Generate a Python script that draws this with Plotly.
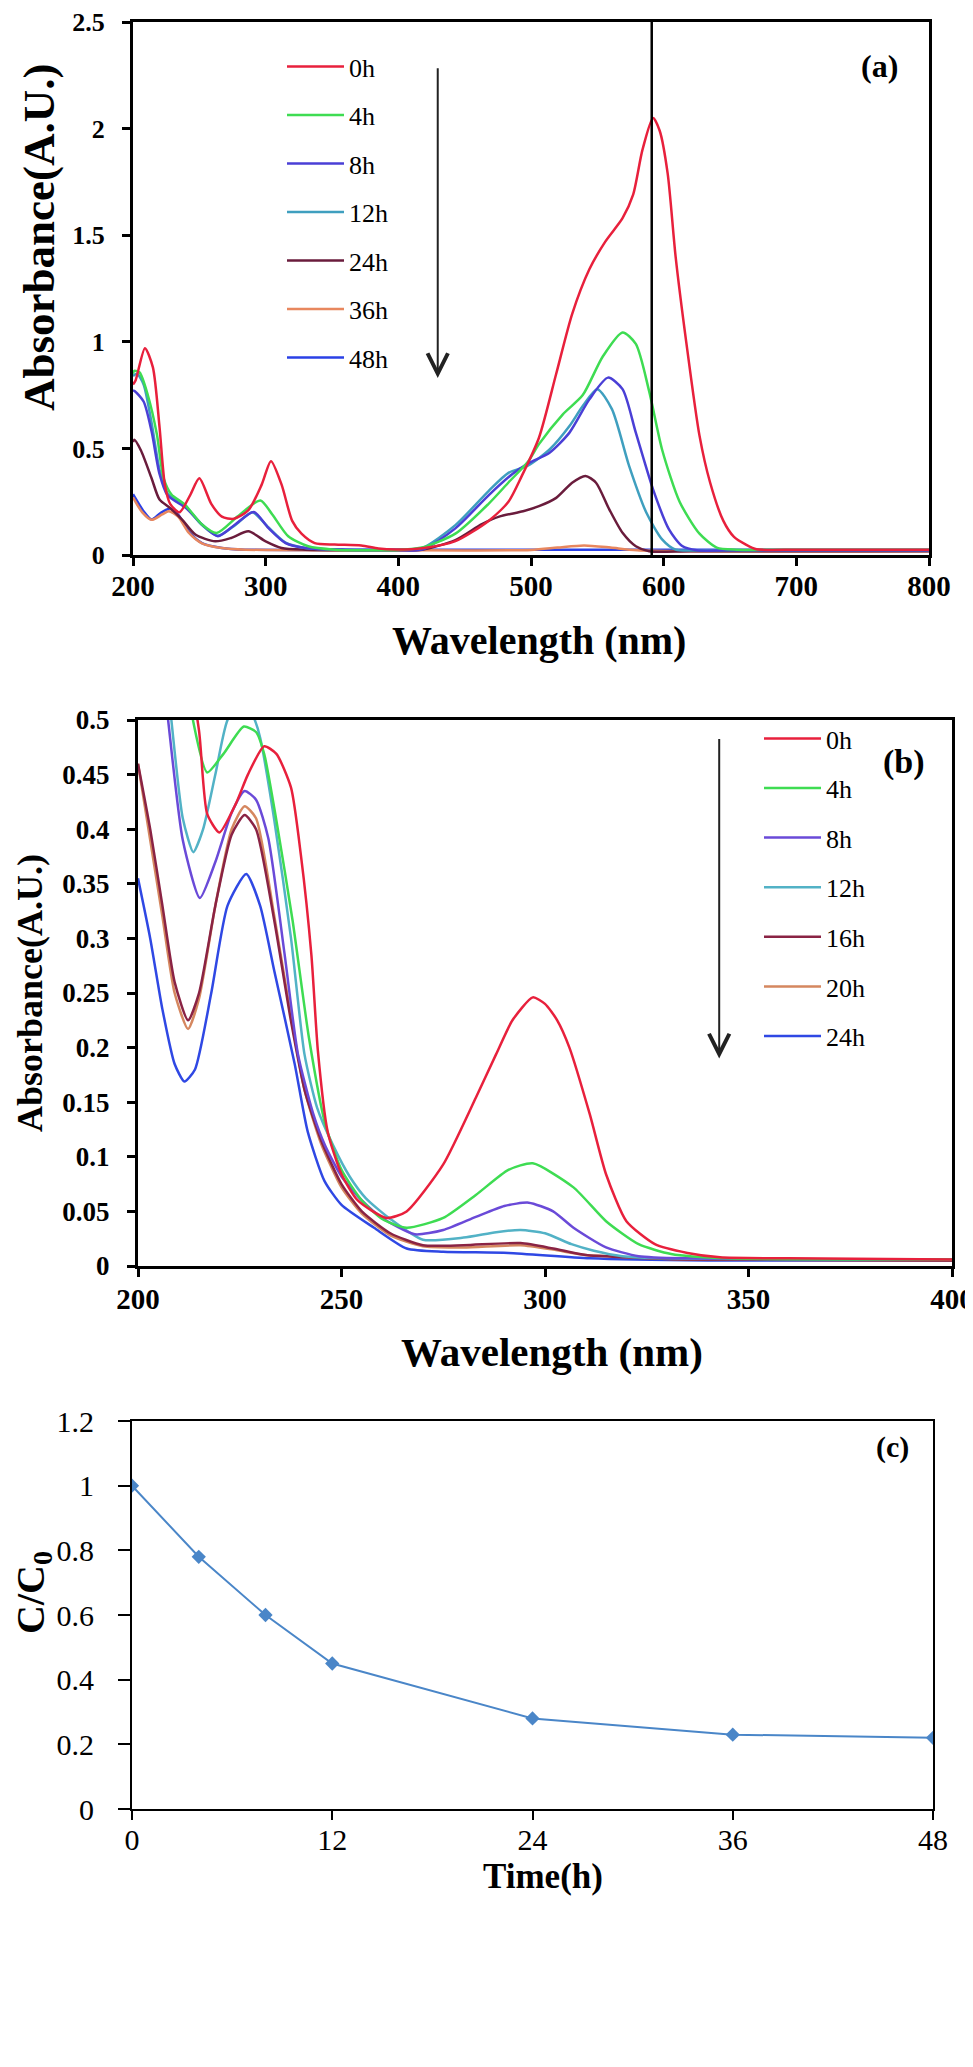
import plotly.graph_objects as go

# ---------------- data ----------------
# panel (a): UV-vis spectra, 0-48 h
wl_a_0h = [200, 202, 209, 215, 220, 224, 228, 235, 243, 250, 259, 267, 276, 287, 297, 304, 312, 320, 327, 337,
           352, 372, 385, 400, 418, 443, 468, 483, 493, 506, 519, 531, 544, 556, 569, 577, 584, 592, 597, 603,
           609, 617, 627, 635, 645, 653, 662, 670, 700, 750, 800]
abs_a_0h = [0.80, 0.82, 0.97, 0.88, 0.60, 0.33, 0.24, 0.20, 0.28, 0.36, 0.24, 0.18, 0.17, 0.21, 0.33, 0.44, 0.33,
            0.16, 0.10, 0.056, 0.049, 0.045, 0.03, 0.026, 0.032, 0.065, 0.16, 0.25, 0.37, 0.55, 0.85, 1.13, 1.34,
            1.47, 1.58, 1.69, 1.90, 2.05, 1.99, 1.79, 1.40, 1.00, 0.56, 0.34, 0.16, 0.085, 0.049, 0.027, 0.025,
            0.025, 0.025]

wl_a_4h = [200, 201, 205, 211, 218, 223, 229, 239, 252, 263, 279, 296, 305, 317, 332, 352, 380, 400, 418, 443,
           468, 483, 498, 506, 524, 539, 554, 569, 579, 589, 599, 612, 627, 640, 655, 700, 800]
abs_a_4h = [0.85, 0.864, 0.856, 0.754, 0.566, 0.362, 0.284, 0.237, 0.143, 0.103, 0.182, 0.256, 0.19, 0.088, 0.041,
            0.025, 0.022, 0.024, 0.035, 0.10, 0.24, 0.34, 0.44, 0.52, 0.66, 0.75, 0.93, 1.044, 0.99, 0.77, 0.49,
            0.25, 0.10, 0.035, 0.025, 0.025, 0.025]

wl_a_8h = [200, 201, 208, 214, 220, 226, 240, 252, 264, 277, 291, 302, 315, 330, 360, 400, 418, 443, 468, 486,
           498, 514, 529, 544, 558, 569, 579, 592, 604, 614, 625, 650, 800]
abs_a_8h = [0.77, 0.77, 0.72, 0.58, 0.38, 0.28, 0.22, 0.143, 0.088, 0.143, 0.202, 0.127, 0.056, 0.033, 0.025,
            0.024, 0.025, 0.125, 0.28, 0.38, 0.43, 0.48, 0.574, 0.73, 0.832, 0.778, 0.574, 0.308, 0.12, 0.042,
            0.022, 0.022, 0.022]

wl_a_12h = [200, 203, 208, 214, 220, 226, 240, 252, 264, 277, 290, 302, 315, 330, 360, 400, 418, 443, 468, 483,
            498, 514, 529, 539, 550, 561, 574, 587, 599, 609, 630, 800]
abs_a_12h = [0.84, 0.85, 0.80, 0.62, 0.40, 0.29, 0.225, 0.14, 0.09, 0.14, 0.20, 0.13, 0.058, 0.033, 0.025, 0.025,
             0.033, 0.14, 0.30, 0.385, 0.42, 0.495, 0.605, 0.699, 0.778, 0.684, 0.417, 0.198, 0.072, 0.025, 0.022,
             0.022]

wl_a_24h = [200, 201, 206, 214, 220, 228, 237, 247, 262, 274, 287, 300, 312, 330, 400, 418, 443, 463, 476, 494,
            506, 519, 531, 541, 549, 559, 569, 579, 589, 620, 800]
abs_a_24h = [0.53, 0.54, 0.49, 0.36, 0.26, 0.22, 0.166, 0.096, 0.064, 0.08, 0.111, 0.064, 0.033, 0.025, 0.022,
             0.025, 0.07, 0.145, 0.18, 0.205, 0.229, 0.268, 0.339, 0.371, 0.339, 0.214, 0.104, 0.041, 0.018, 0.018,
             0.018]

wl_a_36h = [200, 207, 214, 222, 227, 234, 242, 252, 267, 285, 400, 500, 520, 540, 560, 580, 800]
abs_a_36h = [0.27, 0.20, 0.165, 0.19, 0.205, 0.18, 0.105, 0.055, 0.033, 0.025, 0.022, 0.024, 0.035, 0.045, 0.035,
             0.022, 0.018]

wl_a_48h = [200, 208, 214, 221, 228, 234, 242, 252, 267, 284, 400, 600, 800]
abs_a_48h = [0.285, 0.205, 0.166, 0.198, 0.218, 0.19, 0.111, 0.056, 0.033, 0.025, 0.025, 0.025, 0.025]

labels_a = ["0h", "4h", "8h", "12h", "24h", "36h", "48h"]
colors_a = ["#e8203c", "#3edc52", "#4a3fd6", "#3f9fbf", "#6a1c3c", "#e8875e", "#2a40e6"]
peak_line_nm = 591

# panel (b): 200-400 nm region, 0-24 h
wl_b_0h = [200, 205, 210, 215, 217, 220, 224, 227, 231, 234, 237.6, 240, 242.6, 244.2, 246.6, 250, 254, 261, 266,
           275, 283, 288, 292, 297, 300, 303, 306, 311, 315, 320, 327, 335, 343, 360, 400]
abs_b_0h = [0.75, 0.68, 0.60, 0.49, 0.414, 0.397, 0.423, 0.45, 0.476, 0.469, 0.438, 0.377, 0.285, 0.197, 0.123,
            0.084, 0.06, 0.044, 0.05, 0.093, 0.154, 0.194, 0.225, 0.246, 0.240, 0.225, 0.2, 0.139, 0.084, 0.041,
            0.02, 0.012, 0.008, 0.007, 0.006]

wl_b_4h = [200, 205, 210, 213.5, 217, 221, 226, 229, 231, 234, 238, 242, 246, 250, 255, 260, 266, 275, 283, 291,
           297, 307, 315, 323, 331, 345, 400]
abs_b_4h = [0.80, 0.72, 0.60, 0.50, 0.452, 0.469, 0.494, 0.489, 0.469, 0.408, 0.316, 0.209, 0.13, 0.088, 0.06,
            0.043, 0.035, 0.044, 0.065, 0.088, 0.094, 0.072, 0.041, 0.02, 0.011, 0.007, 0.006]

wl_b_8h = [200, 204, 207.4, 211, 215.2, 219, 223, 226.2, 229, 232, 236, 239.3, 243, 246, 250, 255, 260, 268, 275,
           283, 290, 296, 302, 307, 315, 323, 335, 400]
abs_b_8h = [0.75, 0.62, 0.50, 0.39, 0.337, 0.37, 0.415, 0.435, 0.427, 0.392, 0.286, 0.194, 0.14, 0.11, 0.082,
            0.06, 0.044, 0.029, 0.033, 0.045, 0.055, 0.058, 0.05, 0.035, 0.017, 0.009, 0.007, 0.006]

wl_b_12h = [200, 204, 208.2, 211, 213.6, 216, 219, 222, 226, 228.7, 230, 233.5, 237.6, 240.9, 244, 248, 252, 256,
            262, 270, 280, 288, 294, 300, 306.5, 312, 319, 330, 400]
abs_b_12h = [0.80, 0.66, 0.50, 0.41, 0.379, 0.40, 0.45, 0.50, 0.52, 0.50, 0.484, 0.408, 0.30, 0.194, 0.145, 0.11,
             0.082, 0.062, 0.043, 0.024, 0.026, 0.031, 0.033, 0.03, 0.02, 0.014, 0.009, 0.007, 0.006]

wl_b_16h = [200, 203, 206, 209, 212.3, 215, 219, 223, 226.2, 229, 233.5, 237.6, 241, 245, 250, 255, 262, 270, 280,
            294, 302, 310, 320, 335, 400]
abs_b_16h = [0.46, 0.40, 0.33, 0.26, 0.225, 0.25, 0.33, 0.395, 0.413, 0.40, 0.316, 0.224, 0.16, 0.115, 0.075,
             0.05, 0.03, 0.019, 0.019, 0.021, 0.016, 0.01, 0.008, 0.006, 0.005]

wl_b_20h = wl_b_16h
abs_b_20h = [0.46, 0.39, 0.32, 0.25, 0.217, 0.245, 0.33, 0.40, 0.421, 0.41, 0.32, 0.228, 0.16, 0.112, 0.072,
             0.048, 0.028, 0.018, 0.017, 0.019, 0.015, 0.01, 0.008, 0.006, 0.005]

wl_b_24h = [200, 203, 206, 209, 211.4, 214, 218, 222, 226.6, 230, 233.5, 238.5, 241.7, 245.8, 250, 258, 266, 275,
            291, 311, 340, 400]
abs_b_24h = [0.355, 0.30, 0.235, 0.185, 0.169, 0.18, 0.25, 0.33, 0.359, 0.33, 0.27, 0.185, 0.123, 0.078, 0.056,
             0.035, 0.016, 0.013, 0.012, 0.007, 0.005, 0.005]

labels_b = ["0h", "4h", "8h", "12h", "16h", "20h", "24h"]
colors_b = ["#e8203c", "#3edc52", "#6a4ad8", "#52b2c6", "#8a2344", "#d5875f", "#2f48e4"]

# panel (c): relative concentration vs time
time_h = [0, 4, 8, 12, 24, 36, 48]
c_ratio = [1.0, 0.78, 0.60, 0.45, 0.28, 0.23, 0.22]

# ---------------- figure ----------------
W, H = 973, 2067
SERIF = "Liberation Serif"


def px_x(p):
    return p / W


def px_y(p):
    return 1 - p / H


fig = go.Figure()

series_a = [(wl_a_0h, abs_a_0h), (wl_a_4h, abs_a_4h), (wl_a_8h, abs_a_8h), (wl_a_12h, abs_a_12h),
            (wl_a_24h, abs_a_24h), (wl_a_36h, abs_a_36h), (wl_a_48h, abs_a_48h)]
# later hours first so the 0h curve sits on top
for i in reversed(range(len(series_a))):
    wl, ab = series_a[i]
    fig.add_trace(go.Scatter(x=wl, y=ab, mode="lines", name=labels_a[i], xaxis="x", yaxis="y",
                             line=dict(color=colors_a[i], width=2.5, shape="spline", smoothing=0.7),
                             legend="legend", legendgroup="a" + labels_a[i], legendrank=i))

series_b = [(wl_b_0h, abs_b_0h), (wl_b_4h, abs_b_4h), (wl_b_8h, abs_b_8h), (wl_b_12h, abs_b_12h),
            (wl_b_16h, abs_b_16h), (wl_b_20h, abs_b_20h), (wl_b_24h, abs_b_24h)]
for i in reversed(range(len(series_b))):
    wl, ab = series_b[i]
    fig.add_trace(go.Scatter(x=wl, y=ab, mode="lines", name=labels_b[i], xaxis="x2", yaxis="y2",
                             line=dict(color=colors_b[i], width=2.5, shape="spline", smoothing=0.6),
                             legend="legend2", legendgroup="b" + labels_b[i], legendrank=i))

fig.add_trace(go.Scatter(x=time_h, y=c_ratio, mode="lines+markers", xaxis="x3", yaxis="y3", showlegend=False,
                         line=dict(color="#4a86c8", width=2),
                         marker=dict(symbol="diamond", size=11, color="#4a86c8")))


def bold(size):
    return dict(family=SERIF, size=size, color="black", weight="bold")


axis_common = dict(showline=True, linecolor="black", mirror=True, ticks="outside", tickcolor="black",
                   showgrid=False, zeroline=False, automargin=False)

fig.update_layout(
    width=W, height=H, autosize=False,
    margin=dict(l=0, r=0, t=0, b=0),
    paper_bgcolor="white", plot_bgcolor="white",
    # panel (a)
    xaxis=dict(domain=[px_x(125), px_x(921)], anchor="y", range=[200, 800], tick0=200, dtick=100,
               linewidth=3, ticklen=8, tickwidth=2.5, tickfont=bold(29), ticklabelstandoff=-5, **axis_common),
    yaxis=dict(domain=[px_y(547), px_y(14)], anchor="x", range=[0, 2.5], dtick=0.5,
               linewidth=3, ticklen=8, tickwidth=2.5, tickfont=bold(26), ticklabelstandoff=12, **axis_common),
    # panel (b)
    xaxis2=dict(domain=[px_x(130), px_x(944)], anchor="y2", range=[200, 400], dtick=50,
                linewidth=3, ticklen=8, tickwidth=2.5, tickfont=bold(29), ticklabelstandoff=-3, **axis_common),
    yaxis2=dict(domain=[px_y(1258), px_y(712)], anchor="x2", range=[0, 0.5], dtick=0.05,
                linewidth=3, ticklen=8, tickwidth=2.5, tickfont=bold(27), ticklabelstandoff=12, **axis_common),
    # panel (c)
    xaxis3=dict(domain=[px_x(124), px_x(925)], anchor="y3", range=[0, 48], tickvals=[0, 12, 24, 36, 48],
                linewidth=2, ticklen=9, tickwidth=2, tickfont=dict(family=SERIF, size=30, color="black"),
                ticklabelstandoff=-6, **axis_common),
    yaxis3=dict(domain=[px_y(1801), px_y(1413)], anchor="x3", range=[0, 1.2], dtick=0.2,
                linewidth=2, ticklen=12, tickwidth=2, tickfont=dict(family=SERIF, size=30, color="black"),
                ticklabelstandoff=18, **axis_common),
    legend=dict(x=px_x(274), y=px_y(35), xanchor="left", yanchor="top", bgcolor="rgba(0,0,0,0)",
                font=dict(family=SERIF, size=26, color="black"), tracegroupgap=11.7, itemwidth=57,
                traceorder="grouped"),
    legend2=dict(x=px_x(751), y=px_y(707), xanchor="left", yanchor="top", bgcolor="rgba(0,0,0,0)",
                 font=dict(family=SERIF, size=26, color="black"), tracegroupgap=12.8, itemwidth=57,
                 traceorder="grouped"),
    showlegend=True,
)

# axis titles placed where the reference has them
axis_titles = [
    ("Absorbance(A.U.)", 31, 230, 45, -90),
    ("Wavelength (nm)", 531, 632, 40, 0),
    ("Absorbance(A.U.)", 22, 985, 36, -90),
    ("Wavelength (nm)", 544, 1344, 41, 0),
    ("C/C<sub>0</sub>", 25, 1585, 40, -90),
    ("Time(h)", 535, 1868, 35, 0),
]
for text, px, py, size, angle in axis_titles:
    fig.add_annotation(xref="paper", yref="paper", x=px_x(px), y=px_y(py), text=text, showarrow=False,
                       xanchor="center", yanchor="middle", textangle=angle, font=bold(size))

# vertical marker line at the main absorption peak in (a)
fig.add_shape(type="line", xref="x", yref="y domain", x0=peak_line_nm, x1=peak_line_nm, y0=0, y1=1,
              line=dict(color="black", width=2.5))

# downward arrows showing the time direction
fig.add_annotation(xref="x", yref="y", axref="x", ayref="y", x=429.7, y=0.83, ax=429.7, ay=2.29,
                   text="", showarrow=True, arrowhead=5, arrowsize=2, arrowwidth=2, arrowcolor="#222222")
fig.add_annotation(xref="x2", yref="y2", axref="x2", ayref="y2", x=342.8, y=0.19, ax=342.8, ay=0.484,
                   text="", showarrow=True, arrowhead=5, arrowsize=2, arrowwidth=2, arrowcolor="#222222")

# panel tags
for tag, px, py, size in [("(a)", 871, 58, 32), ("(b)", 896, 754, 34), ("(c)", 884, 1439, 30)]:
    fig.add_annotation(xref="paper", yref="paper", x=px_x(px), y=px_y(py), text=tag, showarrow=False,
                       xanchor="center", yanchor="middle", font=bold(size))

fig.write_html("out.html")
